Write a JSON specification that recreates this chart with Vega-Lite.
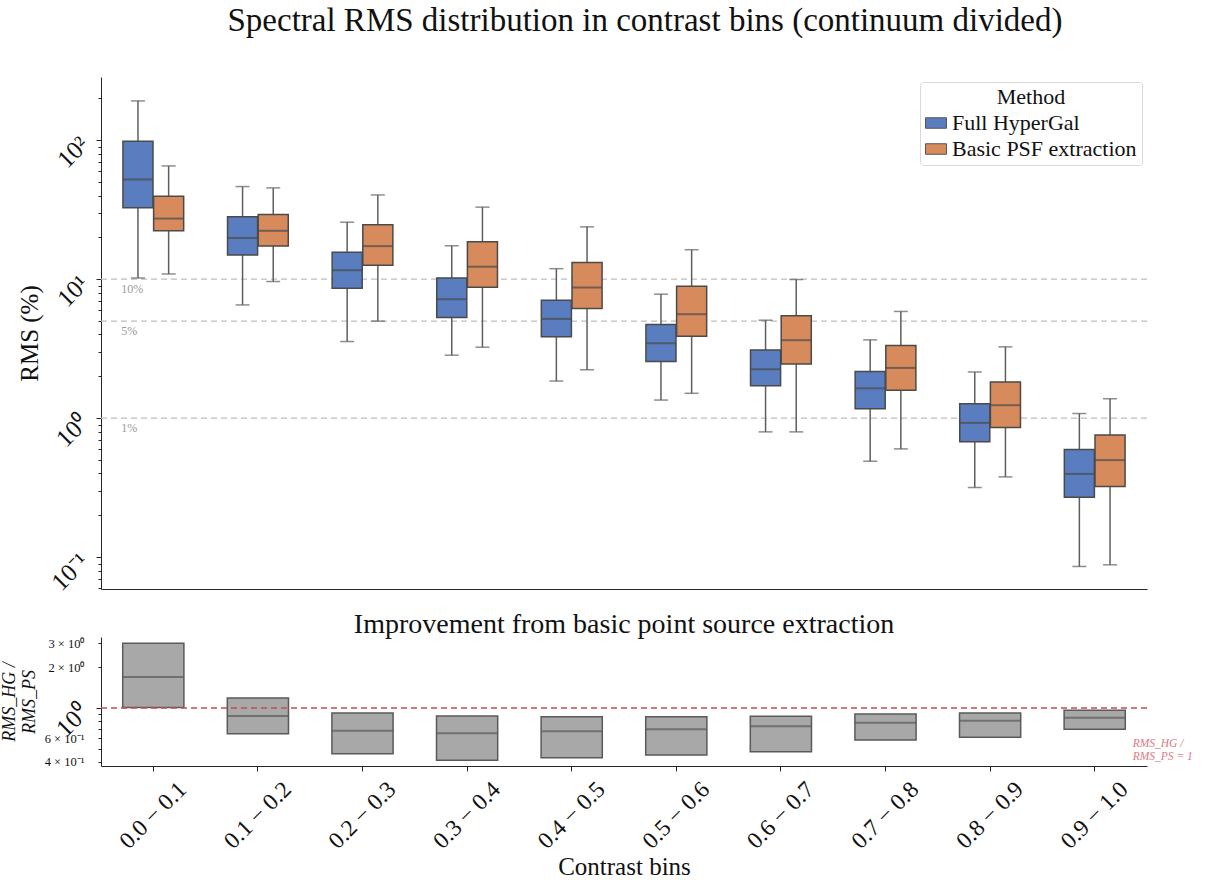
{
  "$schema": "https://vega.github.io/schema/vega-lite/v6.json",
  "padding": {"left": 0, "top": 5, "right": 0, "bottom": 0},
  "background": "white",
  "bounds": "flush",
  "spacing": 48,
  "config": {
    "font": "Liberation Serif",
    "view": {"stroke": null},
    "axis": {
      "labelFont": "Liberation Serif",
      "titleFont": "Liberation Serif",
      "titleFontWeight": "normal",
      "domainColor": "#262626",
      "tickColor": "#262626",
      "labelColor": "#111111",
      "titleColor": "#111111",
      "grid": false
    },
    "legend": {
      "labelFont": "Liberation Serif",
      "titleFont": "Liberation Serif"
    }
  },
  "title": {
    "text": "Spectral RMS distribution in contrast bins (continuum divided)",
    "fontSize": 33,
    "font": "Liberation Serif",
    "fontWeight": "normal",
    "anchor": "middle",
    "frame": "group",
    "baseline": "alphabetic",
    "offset": 13,
    "dx": 21,
    "color": "#111111"
  },
  "datasets": {
    "boxes": [
      {"bin": "0.0 − 0.1", "method": "Full HyperGal", "lower": 10.2, "q1": 32.6, "median": 52.2, "q3": 98.4, "upper": 191.8},
      {"bin": "0.0 − 0.1", "method": "Basic PSF extraction", "lower": 10.9, "q1": 22.3, "median": 27.3, "q3": 39.5, "upper": 65.3},
      {"bin": "0.1 − 0.2", "method": "Full HyperGal", "lower": 6.53, "q1": 14.9, "median": 19.8, "q3": 28.1, "upper": 46.4},
      {"bin": "0.1 − 0.2", "method": "Basic PSF extraction", "lower": 9.62, "q1": 17.3, "median": 22.3, "q3": 29.2, "upper": 45.4},
      {"bin": "0.2 − 0.3", "method": "Full HyperGal", "lower": 3.56, "q1": 8.61, "median": 11.6, "q3": 15.6, "upper": 25.7},
      {"bin": "0.2 − 0.3", "method": "Basic PSF extraction", "lower": 4.99, "q1": 12.6, "median": 17.3, "q3": 24.6, "upper": 40.4},
      {"bin": "0.3 − 0.4", "method": "Full HyperGal", "lower": 2.84, "q1": 5.30, "median": 7.18, "q3": 10.2, "upper": 17.4},
      {"bin": "0.3 − 0.4", "method": "Basic PSF extraction", "lower": 3.24, "q1": 8.76, "median": 12.3, "q3": 18.6, "upper": 33.0},
      {"bin": "0.4 − 0.5", "method": "Full HyperGal", "lower": 1.85, "q1": 3.85, "median": 5.18, "q3": 7.06, "upper": 11.9},
      {"bin": "0.4 − 0.5", "method": "Basic PSF extraction", "lower": 2.23, "q1": 6.15, "median": 8.71, "q3": 13.2, "upper": 23.8},
      {"bin": "0.5 − 0.6", "method": "Full HyperGal", "lower": 1.35, "q1": 2.56, "median": 3.46, "q3": 4.72, "upper": 7.80},
      {"bin": "0.5 − 0.6", "method": "Basic PSF extraction", "lower": 1.51, "q1": 3.89, "median": 5.60, "q3": 8.91, "upper": 16.3},
      {"bin": "0.6 − 0.7", "method": "Full HyperGal", "lower": 0.797, "q1": 1.71, "median": 2.25, "q3": 3.10, "upper": 5.07},
      {"bin": "0.6 − 0.7", "method": "Basic PSF extraction", "lower": 0.797, "q1": 2.45, "median": 3.64, "q3": 5.45, "upper": 9.95},
      {"bin": "0.7 − 0.8", "method": "Full HyperGal", "lower": 0.490, "q1": 1.17, "median": 1.64, "q3": 2.17, "upper": 3.66},
      {"bin": "0.7 − 0.8", "method": "Basic PSF extraction", "lower": 0.601, "q1": 1.59, "median": 2.30, "q3": 3.33, "upper": 5.86},
      {"bin": "0.8 − 0.9", "method": "Full HyperGal", "lower": 0.317, "q1": 0.676, "median": 0.925, "q3": 1.27, "upper": 2.15},
      {"bin": "0.8 − 0.9", "method": "Basic PSF extraction", "lower": 0.378, "q1": 0.857, "median": 1.24, "q3": 1.82, "upper": 3.26},
      {"bin": "0.9 − 1.0", "method": "Full HyperGal", "lower": 0.0857, "q1": 0.270, "median": 0.397, "q3": 0.595, "upper": 1.08},
      {"bin": "0.9 − 1.0", "method": "Basic PSF extraction", "lower": 0.0881, "q1": 0.323, "median": 0.499, "q3": 0.758, "upper": 1.38}
    ],
    "ratio": [
      {"bin": "0.0 − 0.1", "q1": 1.01, "median": 1.69, "q3": 3.0},
      {"bin": "0.1 − 0.2", "q1": 0.646, "median": 0.873, "q3": 1.185},
      {"bin": "0.2 − 0.3", "q1": 0.460, "median": 0.680, "q3": 0.919},
      {"bin": "0.3 − 0.4", "q1": 0.411, "median": 0.651, "q3": 0.873},
      {"bin": "0.4 − 0.5", "q1": 0.430, "median": 0.673, "q3": 0.863},
      {"bin": "0.5 − 0.6", "q1": 0.450, "median": 0.697, "q3": 0.863},
      {"bin": "0.6 − 0.7", "q1": 0.476, "median": 0.733, "q3": 0.868},
      {"bin": "0.7 − 0.8", "q1": 0.581, "median": 0.779, "q3": 0.903},
      {"bin": "0.8 − 0.9", "q1": 0.608, "median": 0.806, "q3": 0.919},
      {"bin": "0.9 − 1.0", "q1": 0.697, "median": 0.848, "q3": 0.962}
    ],
    "refs": [
      {"value": 10, "label": "10%"},
      {"value": 5, "label": "5%"},
      {"value": 1, "label": "1%"}
    ],
    "unity": [
      {"value": 1, "label": ["RMS_HG /", "RMS_PS = 1"]}
    ]
  },
  "vconcat": [
    {
      "width": 1046,
      "height": 512,
      "layer": [
        {
          "data": {"name": "refs"},
          "mark": {"type": "rule", "color": "#bdbdbd", "strokeDash": [6, 4], "strokeWidth": 1.3},
          "encoding": {
            "y": {
              "field": "value",
              "type": "quantitative",
              "scale": {"type": "log", "domain": [0.059, 285], "nice": false},
              "axis": {
                "title": "RMS (%)",
                "titleFontSize": 25,
                "titlePadding": 4,
                "values": [0.06, 0.07, 0.08, 0.09, 0.1, 0.2, 0.3, 0.4, 0.5, 0.6, 0.7, 0.8, 0.9, 1, 2, 3, 4, 5, 6, 7, 8, 9, 10, 20, 30, 40, 50, 60, 70, 80, 90, 100, 200],
                "labelExpr": "datum.value == 100 ? '10²' : datum.value == 10 ? '10¹' : datum.value == 1 ? '10⁰' : datum.value == 0.1 ? '10⁻¹' : ''",
                "labelFontSize": 25,
                "labelAngle": -45,
                "labelAlign": "right",
                "labelBaseline": "middle",
                "labelPadding": 12,
                "labelOverlap": false,
                "tickSize": {"condition": {"test": "datum.value == 100 || datum.value == 10 || datum.value == 1 || datum.value == 0.1", "value": 5}, "value": 3}
              }
            }
          }
        },
        {
          "data": {"name": "refs"},
          "mark": {"type": "text", "align": "left", "baseline": "middle", "dx": -32, "dy": 10, "fontSize": 12, "color": "#9a9a9a", "font": "Liberation Serif"},
          "encoding": {
            "x": {"datum": "0.0 − 0.1", "type": "ordinal"},
            "y": {"field": "value", "type": "quantitative"},
            "text": {"field": "label", "type": "nominal"}
          }
        },
        {
          "data": {"name": "boxes"},
          "mark": {"type": "rule", "color": "#5e5e5e", "strokeWidth": 1.5},
          "encoding": {
            "x": {
              "field": "bin",
              "type": "ordinal",
              "scale": {"domain": ["0.0 − 0.1", "0.1 − 0.2", "0.2 − 0.3", "0.3 − 0.4", "0.4 − 0.5", "0.5 − 0.6", "0.6 − 0.7", "0.7 − 0.8", "0.8 − 0.9", "0.9 − 1.0"], "paddingInner": 0, "paddingOuter": 0},
              "axis": {"title": null, "labels": false, "ticks": false, "domain": true}
            },
            "xOffset": {
              "field": "method",
              "type": "nominal",
              "scale": {"domain": ["Full HyperGal", "Basic PSF extraction"], "paddingOuter": 0.715, "paddingInner": 0.02}
            },
            "y": {"field": "lower", "type": "quantitative"},
            "y2": {"field": "upper"}
          }
        },
        {
          "data": {"name": "boxes"},
          "mark": {"type": "bar", "stroke": "#4a4a4a", "strokeWidth": 1.5},
          "encoding": {
            "x": {"field": "bin", "type": "ordinal"},
            "xOffset": {"field": "method", "type": "nominal"},
            "y": {"field": "q1", "type": "quantitative"},
            "y2": {"field": "q3"},
            "fill": {
              "field": "method",
              "type": "nominal",
              "scale": {"domain": ["Full HyperGal", "Basic PSF extraction"], "range": ["#5a7dc0", "#d78b5d"]},
              "legend": {
                "title": "Method",
                "orient": "top-right",
                "offset": 5,
                "titleFontSize": 22,
                "titleFontWeight": "normal",
                "titleAnchor": "middle",
                "titleAlign": "center",
                "titleColor": "#111111",
                "titlePadding": 3,
                "labelFontSize": 22,
                "labelLimit": 400,
                "labelColor": "#111111",
                "labelOffset": 5,
                "rowPadding": 4,
                "padding": 5,
                "strokeColor": "#d9d9d9",
                "fillColor": "white",
                "cornerRadius": 3,
                "symbolType": "M-1,-0.5L1,-0.5L1,0.5L-1,0.5Z",
                "symbolSize": 440,
                "symbolStrokeColor": "#555555",
                "symbolStrokeWidth": 1
              }
            }
          }
        },
        {
          "data": {"name": "boxes"},
          "mark": {"type": "tick", "color": "#4a4a4a", "size": 30, "thickness": 2},
          "encoding": {
            "x": {"field": "bin", "type": "ordinal"},
            "xOffset": {"field": "method", "type": "nominal"},
            "y": {"field": "median", "type": "quantitative"}
          }
        },
        {
          "data": {"name": "boxes"},
          "mark": {"type": "tick", "color": "#5e5e5e", "size": 14, "thickness": 1.5},
          "encoding": {
            "x": {"field": "bin", "type": "ordinal"},
            "xOffset": {"field": "method", "type": "nominal"},
            "y": {"field": "lower", "type": "quantitative"}
          }
        },
        {
          "data": {"name": "boxes"},
          "mark": {"type": "tick", "color": "#5e5e5e", "size": 14, "thickness": 1.5},
          "encoding": {
            "x": {"field": "bin", "type": "ordinal"},
            "xOffset": {"field": "method", "type": "nominal"},
            "y": {"field": "upper", "type": "quantitative"}
          }
        }
      ]
    },
    {
      "width": 1046,
      "height": 129,
      "title": {
        "text": "Improvement from basic point source extraction",
        "fontSize": 28,
        "font": "Liberation Serif",
        "fontWeight": "normal",
        "anchor": "middle",
        "baseline": "alphabetic",
        "offset": -24,
        "color": "#111111"
      },
      "layer": [
        {
          "data": {"name": "ratio"},
          "mark": {"type": "bar", "width": {"band": 0.585}, "fill": "#a8a8a8", "stroke": "#5a5a5a", "strokeWidth": 1.5},
          "encoding": {
            "x": {
              "field": "bin",
              "type": "ordinal",
              "scale": {"domain": ["0.0 − 0.1", "0.1 − 0.2", "0.2 − 0.3", "0.3 − 0.4", "0.4 − 0.5", "0.5 − 0.6", "0.6 − 0.7", "0.7 − 0.8", "0.8 − 0.9", "0.9 − 1.0"], "paddingInner": 0, "paddingOuter": 0},
              "axis": {
                "title": "Contrast bins",
                "titleFontSize": 25,
                "titlePadding": 2,
                "labelFontSize": 23.5,
                "labelAngle": -45,
                "labelAlign": "center",
                "labelBaseline": "middle",
                "labelPadding": 44,
                "labelOverlap": false,
                "tickSize": 5
              }
            },
            "y": {
              "field": "q1",
              "type": "quantitative",
              "scale": {"type": "log", "domain": [0.373, 3.34], "nice": false},
              "axis": {
                "orient": "left",
                "title": ["RMS_HG /", "RMS_PS"],
                "titleFontSize": 18,
                "titleFontStyle": "italic",
                "titlePadding": 6,
                "values": [0.4, 0.5, 0.6, 0.7, 0.8, 0.9, 2, 3],
                "labelExpr": "datum.value == 0.4 ? '4 × 10⁻¹' : datum.value == 0.6 ? '6 × 10⁻¹' : datum.value == 2 ? '2 × 10⁰' : datum.value == 3 ? '3 × 10⁰' : ''",
                "labelFontSize": 12.5,
                "labelPadding": 14,
                "labelOverlap": false,
                "tickSize": 3
              }
            },
            "y2": {"field": "q3"}
          }
        },
        {
          "data": {"name": "ratio"},
          "mark": {"type": "tick", "color": "#5a5a5a", "size": 61, "thickness": 2},
          "encoding": {
            "x": {"field": "bin", "type": "ordinal"},
            "y": {"field": "median", "type": "quantitative", "axis": null}
          }
        },
        {
          "data": {"name": "unity"},
          "mark": {"type": "rule", "color": "#c44e52", "strokeDash": [6, 4], "strokeWidth": 1.5},
          "encoding": {
            "y": {
              "field": "value",
              "type": "quantitative",
              "axis": {
                "orient": "left",
                "title": null,
                "domain": false,
                "values": [1],
                "labelExpr": "'10⁰'",
                "labelFontSize": 25,
                "labelAngle": -45,
                "labelAlign": "right",
                "labelBaseline": "middle",
                "labelPadding": 12,
                "tickSize": 5
              }
            }
          }
        },
        {
          "data": {"name": "unity"},
          "mark": {"type": "text", "align": "left", "baseline": "middle", "dx": 38, "dy": 36, "fontSize": 11.5, "fontStyle": "italic", "color": "#dd7a7f", "font": "Liberation Serif"},
          "encoding": {
            "x": {"datum": "0.9 − 1.0", "type": "ordinal"},
            "y": {"field": "value", "type": "quantitative", "axis": null},
            "text": {"field": "label"}
          }
        }
      ],
      "resolve": {"axis": {"y": "independent"}}
    }
  ]
}
